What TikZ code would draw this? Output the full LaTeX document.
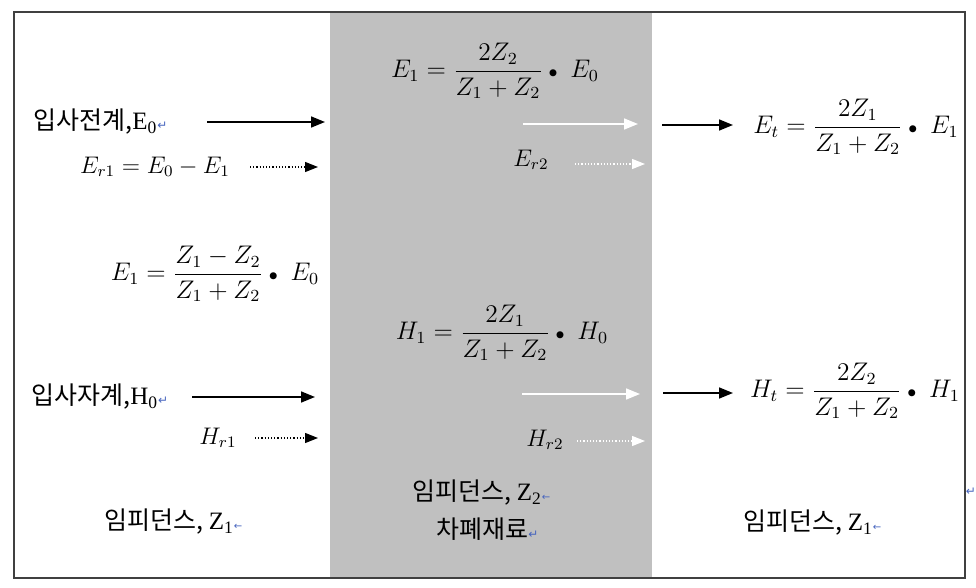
\documentclass[tikz,border=0pt]{standalone}
\usepackage{amsmath}
\usepackage{fontspec}
\newfontfamily\kr{Noto Sans CJK KR}
\newfontfamily\tms{Liberation Serif}
\newfontfamily\djv{DejaVu Sans}
\usetikzlibrary{arrows.meta}
\definecolor{panel}{RGB}{192,192,192}
\definecolor{pmark}{RGB}{70,100,190}
\newcommand{\pmk}{{\djv\fontsize{6}{6}\selectfont\color{pmark}↵}}
\newcommand{\lar}{{\djv\fontsize{5}{5}\selectfont\color{pmark}←}}
\newcommand{\bdot}{\mathbin{\scriptstyle\bullet}\;}
\begin{document}
\begin{tikzpicture}[x=0.5pt,y=-0.5pt,
  lbl/.style={inner sep=0pt, font=\kr\fontsize{12.5}{14}\selectfont},
  eq/.style={inner sep=0pt, font=\fontsize{12}{14}\selectfont},
  deq/.style={eq, scale=1.06},
  arr/.style={line width=0.8pt, -{Triangle[length=7pt,width=5.5pt]}},
  dotarr/.style={line width=0.6pt, densely dotted, -{Triangle[length=6.5pt,width=5pt]}},
  warr/.style={arr, white},
  wdotarr/.style={dotarr, white}]
\useasboundingbox (0,0) rectangle (976,588);
\fill[panel] (330,12) rectangle (652,578);
\draw[line width=0.8pt, black!75] (14,12) rectangle (965,578);

% formulas
\node[deq] (e1) at (495,71) {$\displaystyle E_1=\frac{2Z_2}{Z_1+Z_2}\bdot E_0$};
\node[eq] (er1) at (155,167) {$E_{r1}=E_0-E_1$};
\node[eq] (er2) at (531,160) {$E_{r2}$};
\node[deq] (et) at (856,127) {$\displaystyle E_t=\frac{2Z_1}{Z_1+Z_2}\bdot E_1$};
\node[deq] (e1l) at (215,274) {$\displaystyle E_1=\frac{Z_1-Z_2}{Z_1+Z_2}\bdot E_0$};
\node[deq] (h1) at (502,333) {$\displaystyle H_1=\frac{2Z_1}{Z_1+Z_2}\bdot H_0$};
\node[eq] (hr1) at (218,438) {$H_{r1}$};
\node[eq] (hr2) at (545,440) {$H_{r2}$};
\node[deq] (ht) at (855,391) {$\displaystyle H_t=\frac{2Z_2}{Z_1+Z_2}\bdot H_1$};

% labels
\node[lbl, anchor=west] (einc) at (33,122) {입사전계,{\tms E\textsubscript{0}}\pmk};
\node[lbl, anchor=west] (hinc) at (31,397) {입사자계,{\tms H\textsubscript{0}}\pmk};
\node[lbl, anchor=west] (z1l) at (104,522) {임피던스, {\tms Z\textsubscript{1}}\lar};
\node[lbl, anchor=west] (z2) at (412,493) {임피던스, {\tms Z\textsubscript{2}}\lar};
\node[lbl, anchor=west] (shield) at (436,529) {차폐재료\pmk};
\node[lbl, anchor=west] (z1r) at (743,523) {임피던스, {\tms Z\textsubscript{1}}\lar};
\node[inner sep=0pt] (pm) at (971,492) {\pmk};

% arrow end points
\coordinate (a1s) at (207,122); \coordinate (a1e) at (325,122);
\coordinate (d1s) at (250,167); \coordinate (d1e) at (318,167);
\coordinate (w1s) at (523,124); \coordinate (w1e) at (638,124);
\coordinate (v1s) at (575,164); \coordinate (v1e) at (645,164);
\coordinate (b1s) at (662,125); \coordinate (b1e) at (733,125);
\coordinate (a2s) at (192,397); \coordinate (a2e) at (315,397);
\coordinate (d2s) at (255,438); \coordinate (d2e) at (318,438);
\coordinate (w2s) at (522,394); \coordinate (w2e) at (640,394);
\coordinate (v2s) at (577,441); \coordinate (v2e) at (645,441);
\coordinate (b2s) at (663,393); \coordinate (b2e) at (733,393);

\draw[arr] (a1s) -- (a1e);
\draw[dotarr] (d1s) -- (d1e);
\draw[warr] (w1s) -- (w1e);
\draw[wdotarr] (v1s) -- (v1e);
\draw[arr] (b1s) -- (b1e);
\draw[arr] (a2s) -- (a2e);
\draw[dotarr] (d2s) -- (d2e);
\draw[warr] (w2s) -- (w2e);
\draw[wdotarr] (v2s) -- (v2e);
\draw[arr] (b2s) -- (b2e);
\end{tikzpicture}
\end{document}
